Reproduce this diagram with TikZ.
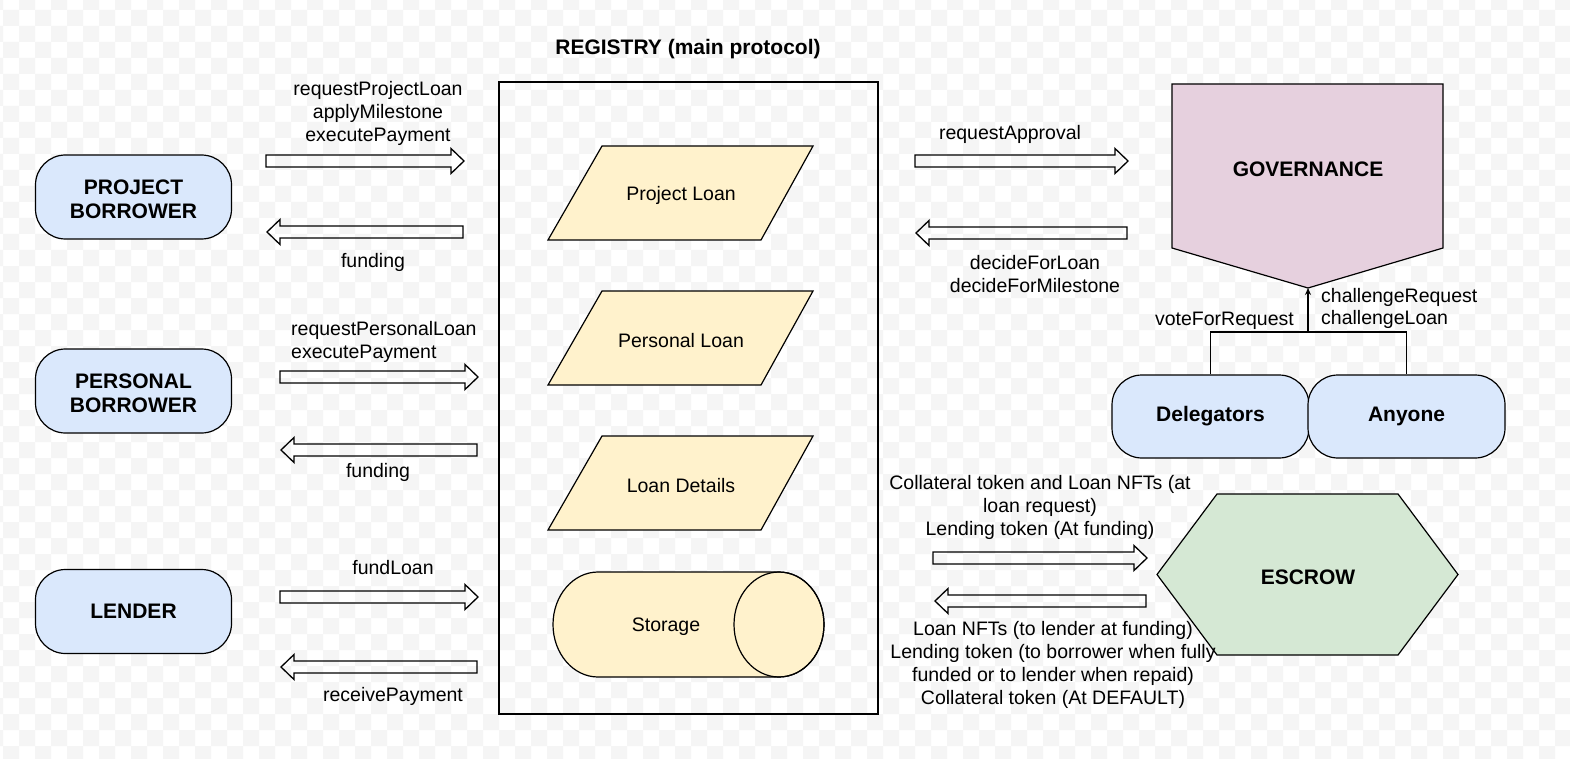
\documentclass[tikz,border=0pt]{standalone}
\usepackage{fontspec}
\setmainfont{Liberation Sans}
\usetikzlibrary{arrows.meta}
\definecolor{blueF}{HTML}{DAE8FC}
\definecolor{yelF}{HTML}{FFF2CC}
\definecolor{grnF}{HTML}{D5E8D4}
\definecolor{pnkF}{HTML}{E6D0DE}
\definecolor{chkF}{HTML}{F5F5F5}
\newcommand\rarr[3]{\draw[blk] (#1,#3-6) -- (#2-13,#3-6) -- (#2-13,#3-12.5) -- (#2,#3) -- (#2-13,#3+12.5) -- (#2-13,#3+6) -- (#1,#3+6) -- cycle;}
\newcommand\larr[3]{\draw[blk] (#2,#3-6) -- (#1+13,#3-6) -- (#1+13,#3-12.5) -- (#1,#3) -- (#1+13,#3+12.5) -- (#1+13,#3+6) -- (#2,#3+6) -- cycle;}
\begin{document}
\begin{tikzpicture}[x=1pt,y=-1pt,
  txt/.style={font=\fontsize{19.5}{22.8}\selectfont, inner sep=0pt, align=center, yshift=-2.5pt},
  boldtxt/.style={font=\fontsize{21}{24}\selectfont\bfseries, inner sep=0pt, align=center},
  pill/.style={draw, line width=1.2pt, fill=blueF, rounded corners=30pt, minimum width=196pt, minimum height=84pt, boldtxt},
  blk/.style={draw, line width=1.3pt, line join=miter},
  shp/.style={draw, line width=1.2pt},
]
\useasboundingbox (0,0) rectangle (1570,759);
\fill[white] (0,0) rectangle (1570,759);
\begin{scope}
\clip (0,0) rectangle (1570,759);
\fill[chkF] \foreach \m in {0,...,23} { \foreach \n in {-1,...,48} { (19+32*\n,-6+32*\m) rectangle ++(16,16) (3+32*\n,10+32*\m) rectangle ++(16,16) } };
\end{scope}

% registry
\node[boldtxt] (title) at (688,49.5) {REGISTRY (main protocol)};
\node[shp, minimum width=379pt, minimum height=632pt, inner sep=0pt] (reg) at (688.5,398) {};

\draw[shp, fill=yelF] (602,146) -- (813,146) -- (761,240) -- (548,240) -- cycle;
\node[txt] (pl) at (681,193) {Project Loan};
\draw[shp, fill=yelF] (602,291) -- (813,291) -- (761,385) -- (548,385) -- cycle;
\node[txt] (psl) at (681,338) {Personal Loan};
\draw[shp, fill=yelF] (602,436) -- (813,436) -- (761,530) -- (548,530) -- cycle;
\node[txt] (ld) at (681,483) {Loan Details};

\draw[shp, fill=yelF] (779,572) -- (598,572) arc[start angle=90, end angle=270, x radius=45pt, y radius=52.5pt] -- (779,677) arc[start angle=-90, end angle=90, x radius=45pt, y radius=52.5pt] -- cycle;
\draw[shp] (779,624.5) ellipse[x radius=45pt, y radius=52.5pt];
\node[txt] (st) at (666,624.5) {Storage};

% left actors
\node[pill] (pb) at (133.5,197) {};
\node[boldtxt] (pbt) at (pb.center) [yshift=-2pt] {PROJECT\\BORROWER};
\node[pill] (pers) at (133.5,391) {};
\node[boldtxt] (perst) at (pers.center) [yshift=-2pt] {PERSONAL\\BORROWER};
\node[pill] (lend) at (133.5,611.5) {\raisebox{-2pt}{LENDER}};

\rarr{266}{464}{161}
\larr{267}{463}{232}
\rarr{280}{478}{377}
\larr{281}{477}{450}
\rarr{280}{478}{597}
\larr{281}{477}{667}

\node[txt] (l1) at (378,111) {requestProjectLoan\\applyMilestone\\executePayment};
\node[txt] (l2) at (373,260) {funding};
\node[txt, anchor=west, align=left] (l3) at (291,339.5) {requestPersonalLoan\\executePayment};
\node[txt] (l4) at (378,470) {funding};
\node[txt] (l5) at (393,565) {fundLoan};
\node[txt] (l6) at (393,694) {receivePayment};

% governance
\draw[shp, fill=pnkF] (1172,84) -- (1443,84) -- (1443,248) -- (1308,288) -- (1172,248) -- cycle;
\coordinate (govtip) at (1308,288);
\node[boldtxt] (gov) at (1308,169) {GOVERNANCE};

\rarr{915}{1128}{161}
\larr{916}{1127}{233}
\node[txt] (r1) at (1010,132) {requestApproval};
\node[txt] (r2) at (1035,271.5) {decideForLoan\\decideForMilestone};

\node[pill, minimum width=197pt, minimum height=83pt] (dele) at (1210.5,416.5) {\raisebox{-2pt}{Delegators}};
\node[pill, minimum width=197pt, minimum height=83pt] (any) at (1406.5,416.5) {\raisebox{-2pt}{Anyone}};
\coordinate (junc) at (1308,332);
\draw[shp] (dele.north) |- (junc) -| (any.north);
\draw[shp, -{Stealth[length=7pt, width=6pt]}] (junc) -- (govtip);
\node[txt, anchor=east] (v1) at (1294,318) {voteForRequest};
\node[txt, anchor=west, align=left] (v2) at (1321,306) {challengeRequest\\challengeLoan};

% escrow
\draw[shp, fill=grnF] (1217,494) -- (1398,494) -- (1458,574.5) -- (1398,655) -- (1217,655) -- (1157,574.5) -- cycle;
\node[boldtxt] (esc) at (1308,577) {ESCROW};
\rarr{933}{1147}{558}
\larr{935}{1146}{601}
\node[txt] (e1) at (1040,505) {Collateral token and Loan NFTs (at\\loan request)\\Lending token (At funding)};
\node[txt] (e2) at (1053,662.5) {Loan NFTs (to lender at funding)\\Lending token (to borrower when fully\\funded or to lender when repaid)\\Collateral token (At DEFAULT)};
\end{tikzpicture}
\end{document}
